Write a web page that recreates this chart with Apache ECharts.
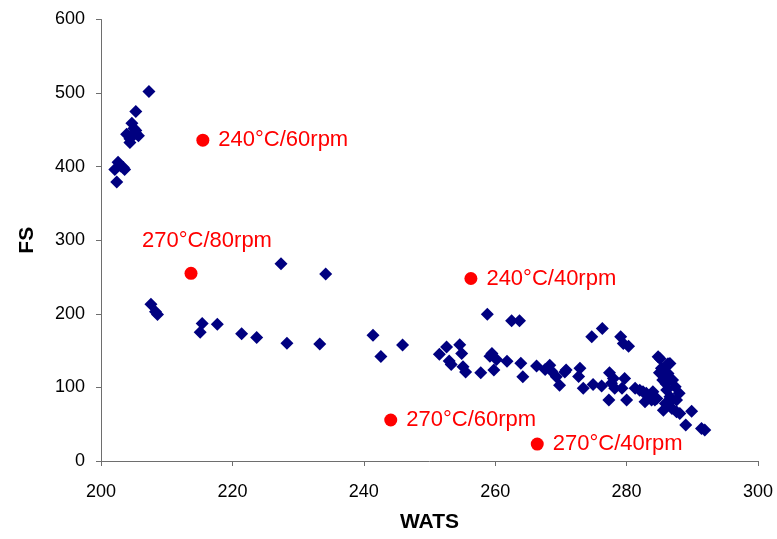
<!DOCTYPE html>
<html><head><meta charset="utf-8">
<script src="https://cdn.jsdelivr.net/npm/echarts@6/dist/echarts.min.js"></script>
<style>html,body{margin:0;padding:0;background:#fff}#c{width:777px;height:539px}</style>
</head><body><div id="c"></div>
<script>
var xTicks = [200, 220, 240, 260, 280, 300];
var yTicks = [0, 100, 200, 300, 400, 500, 600];
var xTitle = 'WATS';
var yTitle = 'FS';
// measured samples: [WATS, FS]
var samples = [
 [207.3,502],[205.3,475],[204.7,459],[205.0,452],[205.3,449],[203.9,444],[205.7,442],[204.4,438],[204.4,433],[205.2,446],
 [202.6,406],[203.0,401],[203.4,399],[202.1,396],[203.6,396],[202.4,379],
 [207.6,213],[208.3,203],[208.6,199],[215.4,187],[215.1,175],[217.7,186],[221.4,173],[223.7,168],[228.3,160],[233.3,159],
 [227.4,268],[234.2,254],[241.4,171],[242.6,142],[245.9,157.5],
 [251.5,145],[252.6,155],[253.0,136],[253.3,131],[254.6,158],[254.9,146],[255.1,128],[255.5,121],[257.8,120],
 [259.2,142.5],[259.5,146],[260.2,138],[259.8,123.5],[258.8,199.5],[262.5,190.5],[263.7,190.5],[261.8,135.7],
 [263.9,133],[264.2,114.5],[266.3,129],[267.6,124.5],[268.3,130],[268.6,122],[269.3,114.5],[269.8,103],[270.8,123.5],
 [274.7,168.7],[276.3,180],[279.1,168.7],[279.5,159.7],[280.3,156],
 [270.6,121],[272.9,126],[272.7,115],[273.4,99],[274.9,104],[276.2,102],[277.4,120],[278.0,112],[277.7,105.5],
 [278.2,98.7],[279.3,98.7],[279.7,112],[277.3,83],[280.0,83],[281.3,98.7],[282.0,96],[283.0,92],[283.8,83],
 [282.5,94],[282.8,80.5],[284.0,94],[284.3,83],
 [284.8,141.6],[285.1,139],[286.6,132.6],[286.3,132],[285.3,126],[286.3,119],[285.0,120],[285.5,110],[287.0,110],
 [287.4,101],[286.0,105],[288.0,92],[286.1,96.4],[286.6,87.3],[287.6,82.8],[285.9,78],[286.6,80.5],[284.6,85],
 [286.9,71.5],[285.6,69],[287.6,67],[288.1,64.6],[289.9,67.5],[289.0,49],[291.4,44.3],[291.9,42]
];
var condNames = ['240°C/60rpm', '270°C/80rpm', '240°C/40rpm', '270°C/60rpm', '270°C/40rpm'];
var condX = [215.5, 213.7, 256.3, 244.1, 266.4];
var condY = [436, 255, 248, 55.7, 23];

var labelFont = 'Liberation Sans';
var condData = condNames.map(function (n, i) {
  var lab = {show: true, formatter: n, position: 'right', distance: 9};
  if (i === 1) { lab = {show: true, formatter: n, position: 'top', distance: 5, offset: [16, -10]}; }
  return {value: [condX[i], condY[i]], label: lab};
});

var chart = echarts.init(document.getElementById('c'), null, {renderer: 'canvas'});
chart.setOption({
  animation: false,
  backgroundColor: '#fff',
  grid: {left: 101, right: 19, top: 19.5, bottom: 78, containLabel: false},
  xAxis: {
    type: 'value', min: xTicks[0], max: xTicks[xTicks.length - 1], interval: 20,
    name: xTitle, nameLocation: 'middle', nameGap: 51,
    nameTextStyle: {fontFamily: labelFont, fontSize: 21, fontWeight: 'bold', color: '#000'},
    axisLine: {show: true, onZero: false, lineStyle: {color: '#6e6e6e', width: 1}},
    axisTick: {show: true, inside: false, length: 5, lineStyle: {color: '#6e6e6e'}},
    axisLabel: {margin: 22, fontFamily: labelFont, fontSize: 18, color: '#000'},
    splitLine: {show: false}
  },
  yAxis: {
    type: 'value', min: yTicks[0], max: yTicks[yTicks.length - 1], interval: 100,
    name: yTitle, nameLocation: 'middle', nameGap: 63,
    nameTextStyle: {fontFamily: labelFont, fontSize: 21, fontWeight: 'bold', color: '#000'},
    axisLine: {show: true, onZero: false, lineStyle: {color: '#6e6e6e', width: 1}},
    axisTick: {show: true, inside: false, length: 5, lineStyle: {color: '#6e6e6e'}},
    axisLabel: {margin: 16, fontFamily: labelFont, fontSize: 18, color: '#000'},
    splitLine: {show: false}
  },
  series: [
    {type: 'scatter', data: samples, symbol: 'diamond', symbolSize: 13,
     itemStyle: {color: '#000080', opacity: 1}, z: 2},
    {type: 'scatter', data: condData, symbol: 'circle', symbolSize: 13,
     itemStyle: {color: '#ff0000', opacity: 1},
     label: {color: '#ff0000', fontFamily: labelFont, fontSize: 22}, z: 3}
  ]
});
</script></body></html>
